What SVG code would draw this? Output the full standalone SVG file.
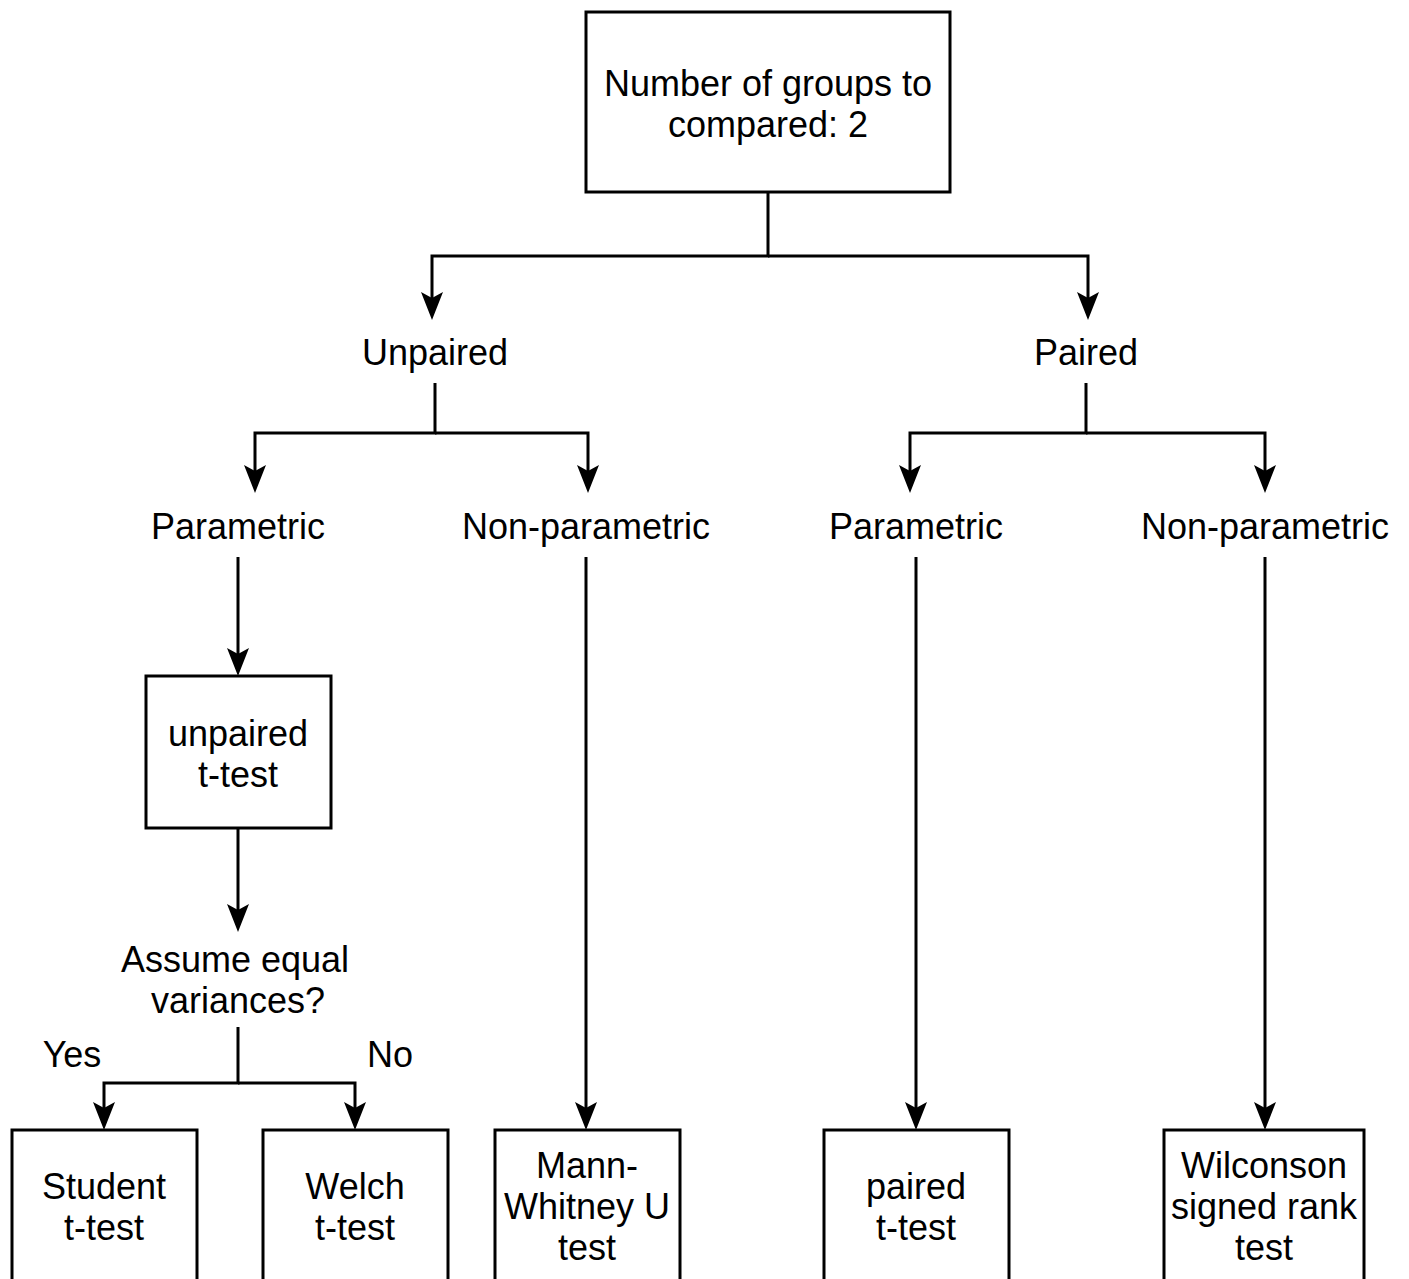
<svg xmlns="http://www.w3.org/2000/svg" width="1409" height="1279" viewBox="0 0 1409 1279">
<style>
.box{fill:#fff;stroke:#000;stroke-width:3}
.t{font-family:"Liberation Sans",Arial,Helvetica,sans-serif;font-size:36px;fill:#000;text-anchor:middle}
.c{fill:none;stroke:#000;stroke-width:3}
</style>
<defs>
<marker id="arr" viewBox="0 0 28 22" refX="20" refY="11" markerWidth="28" markerHeight="22" markerUnits="userSpaceOnUse" orient="auto">
<path d="M0,0 L28,11 L0,22 L6,11 Z" fill="#000"/>
</marker>
</defs>
<rect width="1409" height="1279" fill="#fff"/>
<g id="connectors">
<path class="c" d="M768,192 V256 H432 V312" marker-end="url(#arr)"/>
<path class="c" d="M768,256 H1088 V312" marker-end="url(#arr)"/>
<path class="c" d="M435,383 V433 H255 V485" marker-end="url(#arr)"/>
<path class="c" d="M435,433 H588 V485" marker-end="url(#arr)"/>
<path class="c" d="M1086,383 V433 H910 V485" marker-end="url(#arr)"/>
<path class="c" d="M1086,433 H1265 V485" marker-end="url(#arr)"/>
<path class="c" d="M238,557 V668" marker-end="url(#arr)"/>
<path class="c" d="M586,557 V1122" marker-end="url(#arr)"/>
<path class="c" d="M916,557 V1122" marker-end="url(#arr)"/>
<path class="c" d="M1265,557 V1122" marker-end="url(#arr)"/>
<path class="c" d="M238,828 V924" marker-end="url(#arr)"/>
<path class="c" d="M238,1027 V1083 H104 V1122" marker-end="url(#arr)"/>
<path class="c" d="M238,1083 H355 V1122" marker-end="url(#arr)"/>
</g>
<g id="root">
<rect class="box" x="586" y="12" width="364" height="180"/>
<text class="t" x="768" y="96">Number of groups to</text>
<text class="t" x="768" y="137">compared: 2</text>
</g>
<g id="unpaired"><text class="t" x="435" y="365">Unpaired</text></g>
<g id="paired"><text class="t" x="1086" y="365">Paired</text></g>
<g id="unp-param"><text class="t" x="238" y="539">Parametric</text></g>
<g id="unp-nonparam"><text class="t" x="586" y="539">Non-parametric</text></g>
<g id="p-param"><text class="t" x="916" y="539">Parametric</text></g>
<g id="p-nonparam"><text class="t" x="1265" y="539">Non-parametric</text></g>
<g id="unpaired-ttest">
<rect class="box" x="146" y="676" width="185" height="152"/>
<text class="t" x="238" y="746">unpaired</text>
<text class="t" x="238" y="787">t-test</text>
</g>
<g id="assume">
<text class="t" x="235" y="972">Assume equal</text>
<text class="t" x="238" y="1013">variances?</text>
</g>
<g id="yes"><text class="t" x="72" y="1067">Yes</text></g>
<g id="no"><text class="t" x="390" y="1067">No</text></g>
<g id="student">
<rect class="box" x="12" y="1130" width="185" height="170"/>
<text class="t" x="104" y="1199">Student</text>
<text class="t" x="104" y="1240">t-test</text>
</g>
<g id="welch">
<rect class="box" x="263" y="1130" width="185" height="170"/>
<text class="t" x="355" y="1199">Welch</text>
<text class="t" x="355" y="1240">t-test</text>
</g>
<g id="mann">
<rect class="box" x="495" y="1130" width="185" height="170"/>
<text class="t" x="587" y="1178">Mann-</text>
<text class="t" x="587" y="1219">Whitney U</text>
<text class="t" x="587" y="1260">test</text>
</g>
<g id="paired-ttest">
<rect class="box" x="824" y="1130" width="185" height="170"/>
<text class="t" x="916" y="1199">paired</text>
<text class="t" x="916" y="1240">t-test</text>
</g>
<g id="wilcoxon">
<rect class="box" x="1164" y="1130" width="200" height="170"/>
<text class="t" x="1264" y="1178">Wilconson</text>
<text class="t" x="1264" y="1219">signed rank</text>
<text class="t" x="1264" y="1260">test</text>
</g>
</svg>
